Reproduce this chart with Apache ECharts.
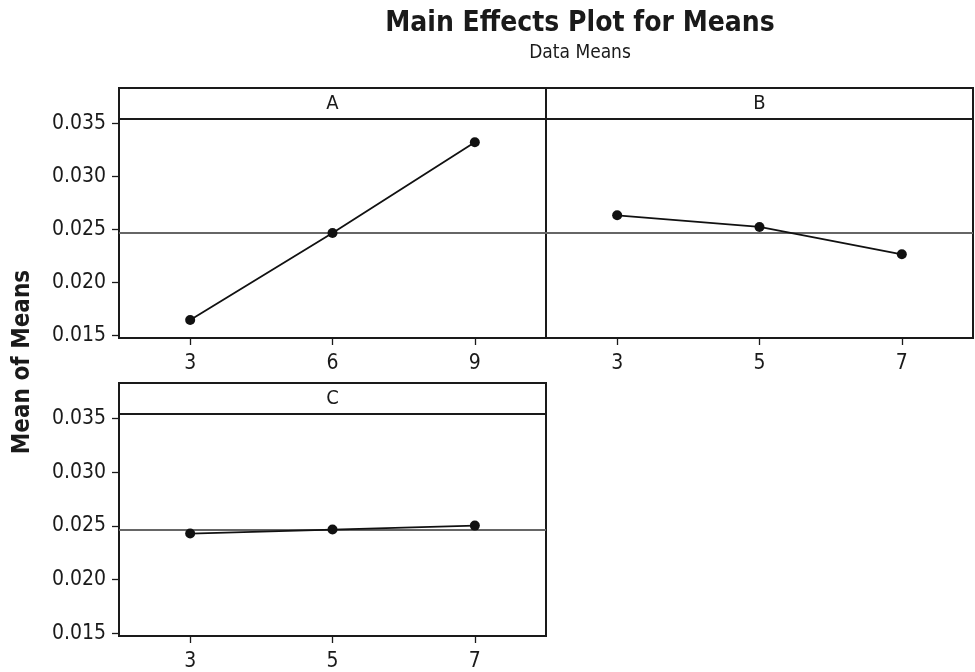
<!DOCTYPE html>
<html>
<head>
<meta charset="utf-8">
<script src="https://cdn.jsdelivr.net/npm/echarts@6/dist/echarts.min.js"></script>
<style>
html,body{margin:0;padding:0;background:#fff;}
#chart{width:975px;height:672px;}
</style>
</head>
<body>
<div id="chart"></div>
<script>
// ---- data ----
const panelNames = ['A', 'B', 'C'];
const levelsA = ['3', '6', '9'];
const levelsB = ['3', '5', '7'];
const levelsC = ['3', '5', '7'];
const meansA = [0.01645, 0.02465, 0.03320];
const meansB = [0.02632, 0.02522, 0.02264];
const meansC = [0.02428, 0.02465, 0.02502];
const grandMean = 0.02465;
const yTicks = [0.015, 0.020, 0.025, 0.030, 0.035];
const yMin = 0.01475, yMax = 0.0354;

const FONT = '"DejaVu Sans Condensed", "DejaVu Sans", sans-serif';
const chart = echarts.init(document.getElementById('chart'), null, {renderer: 'canvas'});

const panels = [
  {name: panelNames[0], levels: levelsA, means: meansA, left: 119, top: 119, width: 427, height: 219, showY: true},
  {name: panelNames[1], levels: levelsB, means: meansB, left: 546, top: 119, width: 427, height: 219, showY: false},
  {name: panelNames[2], levels: levelsC, means: meansC, left: 119, top: 414, width: 427, height: 222, showY: true}
];
const stripH = 31;

const grid = [], xAxis = [], yAxis = [], series = [], graphic = [];
panels.forEach((p, i) => {
  grid.push({left: p.left, top: p.top, width: p.width, height: p.height, show: true,
    borderColor: '#1a1a1a', borderWidth: 2, backgroundColor: 'transparent', containLabel: false});
  xAxis.push({type: 'category', gridIndex: i, data: p.levels, boundaryGap: true,
    axisLine: {show: true, lineStyle: {color: '#1a1a1a', width: 2}},
    axisTick: {show: true, alignWithLabel: true, length: 7, lineStyle: {color: '#1a1a1a', width: 1.3}},
    axisLabel: {color: '#1a1a1a', fontFamily: FONT, fontSize: 21, margin: 15},
    splitLine: {show: false}});
  yAxis.push({type: 'value', gridIndex: i, min: yMin, max: yMax,
    axisLine: {show: p.showY, lineStyle: {color: '#1a1a1a', width: 2}},
    axisTick: {show: p.showY, length: 7, customValues: yTicks, lineStyle: {color: '#1a1a1a', width: 1.3}},
    axisLabel: {show: p.showY, customValues: yTicks, color: '#1a1a1a', fontFamily: FONT, fontSize: 21, margin: 13,
      formatter: v => v.toFixed(3)},
    splitLine: {show: false}});
  series.push({type: 'line', xAxisIndex: i, yAxisIndex: i, data: p.means,
    symbol: 'circle', symbolSize: 10, itemStyle: {color: '#111'},
    lineStyle: {color: '#111', width: 1.8}, z: 5, silent: true,
    markLine: {silent: true, symbol: 'none', precision: 6, label: {show: false},
      lineStyle: {color: '#666', width: 1.8, type: 'solid'},
      data: [{yAxis: grandMean}]}});
  graphic.push({type: 'rect', shape: {x: p.left, y: p.top - stripH, width: p.width, height: stripH},
    style: {fill: '#fff', stroke: '#1a1a1a', lineWidth: 2}, z: 10});
  graphic.push({type: 'text', x: p.left + p.width / 2, y: p.top - stripH / 2,
    style: {text: p.name, fill: '#1a1a1a', font: '20px ' + FONT, textAlign: 'center', textVerticalAlign: 'middle'}, z: 11});
});

graphic.push({type: 'text', x: 23, y: 362, rotation: Math.PI / 2,
  style: {text: 'Mean of Means', fill: '#1a1a1a', font: 'bold 24px ' + FONT, textAlign: 'center', textVerticalAlign: 'middle'}});

chart.setOption({
  animation: false,
  backgroundColor: '#fff',
  title: {text: 'Main Effects Plot for Means', subtext: 'Data Means', left: 575, top: 5, textAlign: 'center',
    itemGap: 6,
    textStyle: {fontFamily: FONT, fontWeight: 'bold', fontSize: 28, color: '#1a1a1a'},
    subtextStyle: {fontFamily: FONT, fontSize: 19, color: '#1a1a1a'}},
  grid, xAxis, yAxis, series, graphic
});
</script>
</body>
</html>
